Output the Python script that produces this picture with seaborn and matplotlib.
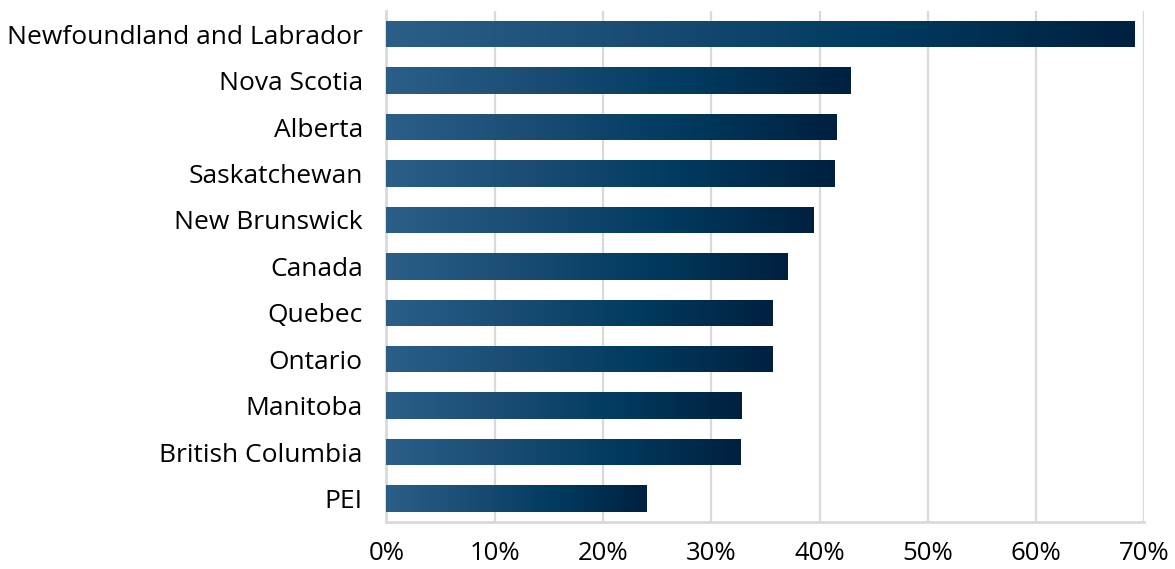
import numpy as np
import pandas as pd
import seaborn as sns
import matplotlib.pyplot as plt
from matplotlib.colors import LinearSegmentedColormap

provinces = ['Newfoundland and Labrador', 'Nova Scotia', 'Alberta', 'Saskatchewan',
             'New Brunswick', 'Canada', 'Quebec', 'Ontario', 'Manitoba',
             'British Columbia', 'PEI']
shares = [69.1, 42.9, 41.6, 41.4, 39.5, 37.1, 35.7, 35.7, 32.8, 32.75, 24.1]
tick_vals = [0, 10, 20, 30, 40, 50, 60, 70]

sns.set_style('white')
plt.rcParams['font.family'] = ['Open Sans', 'DejaVu Sans']

df = pd.DataFrame({'province': provinces, 'share': shares})

fig = plt.figure(figsize=(11.75, 5.69), dpi=100)
ax = fig.add_axes([0.3289, 0.0831, 0.9739 - 0.3289, 0.9807 - 0.0831])

sns.barplot(data=df, x='share', y='province', orient='h', width=0.57,
            color='#1f4e79', ax=ax, zorder=3)

# horizontal gradient inside each bar
grad = LinearSegmentedColormap.from_list('bar', ['#2b5f88', '#1a4c73', '#003a5e', '#00203f'])
g = np.linspace(0, 1, 256).reshape(1, -1)
for p in ax.patches:
    x0, y0 = p.get_x(), p.get_y()
    w, h = p.get_width(), p.get_height()
    p.set_facecolor('none')
    p.set_edgecolor('none')
    im = ax.imshow(g, cmap=grad, aspect='auto', extent=[x0, x0 + w, y0 + h, y0],
                   zorder=3, interpolation='bicubic')
    im.set_clip_path(p)

ax.set_xlim(0, 70)
ax.set_ylim(len(provinces) - 0.5, -0.5)
ax.set_xticks(tick_vals)
ax.set_xticklabels([f'{v}%' for v in tick_vals])
ax.set_xlabel('')
ax.set_ylabel('')

ax.grid(axis='x', color='#d9d9d9', linewidth=1.6, zorder=0)
ax.grid(axis='y', visible=False)
for side in ['top', 'right']:
    ax.spines[side].set_visible(False)
for side in ['left', 'bottom']:
    ax.spines[side].set_color('#d9d9d9')
    ax.spines[side].set_linewidth(2)

ax.tick_params(axis='x', length=0, pad=14, labelsize=18.5, colors='black')
ax.tick_params(axis='y', length=0, pad=17, labelsize=19, colors='black')

fig.savefig('out.png', dpi=100)
